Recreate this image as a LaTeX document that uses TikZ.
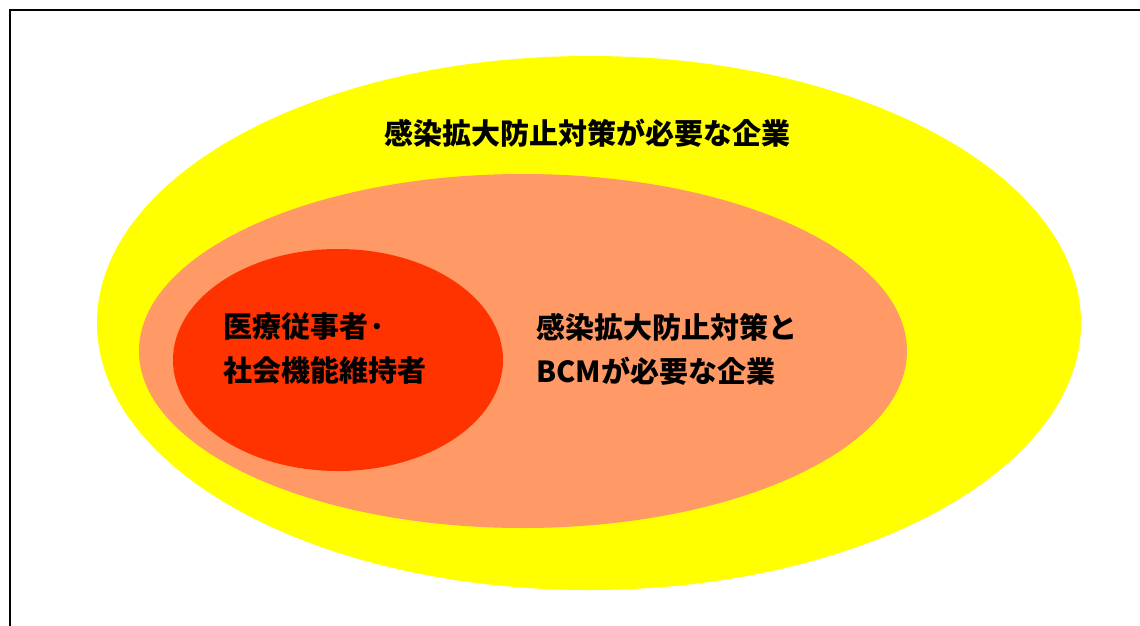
\documentclass[tikz,border=0pt]{standalone}
\usepackage{fontspec}
\newfontfamily\cjk{Noto Sans CJK JP}
\definecolor{outery}{HTML}{FFFF00}
\definecolor{midsal}{HTML}{FF9966}
\definecolor{innerr}{HTML}{FF3300}
\begin{document}
\begin{tikzpicture}[x=1pt,y=-1pt,
  lbl/.style={font=\cjk\bfseries\fontsize{29}{44}\selectfont, inner sep=0pt, text=black},
  frame/.style={draw=black, line width=2.2pt}]
\useasboundingbox (0,0) rectangle (1140,626);
\fill[white] (0,0) rectangle (1140,626);
\draw[frame] (10,640) -- (10,10) -- (1150,10);
\fill[outery] (589,323) ellipse [x radius=492, y radius=267];
\fill[midsal] (523,351) ellipse [x radius=384, y radius=177];
\fill[innerr] (338,360) ellipse [x radius=165, y radius=111];
\node[lbl, anchor=center] (t1) at (587,133) {感染拡大防止対策が必要な企業};
\node[lbl, anchor=north west, align=left] (t2) at (536,313) {感染拡大防止対策と\\BCMが必要な企業};
\node[lbl, anchor=north west, align=left] (t3) at (223,313) {医療従事者·\\社会機能維持者};
\end{tikzpicture}
\end{document}
